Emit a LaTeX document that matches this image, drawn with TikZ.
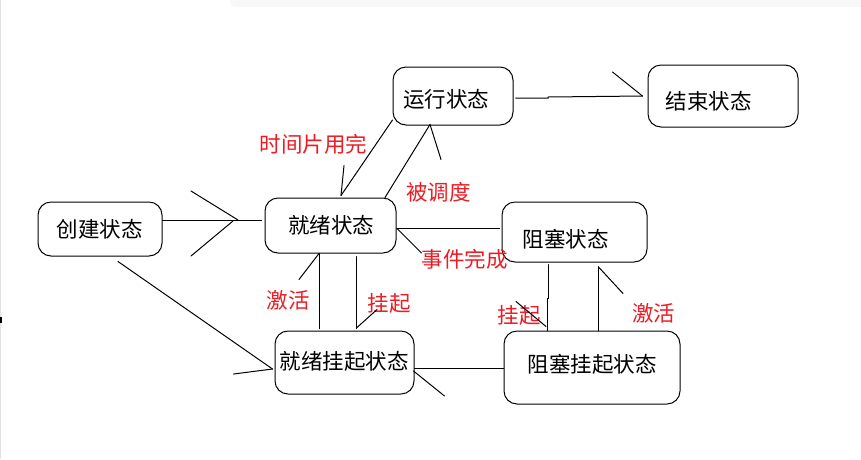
\documentclass[tikz,border=0pt]{standalone}
\usepackage{fontspec}
\newfontfamily\cjk{Noto Sans CJK SC}
\definecolor{lblred}{RGB}{237,28,36}
\definecolor{faint}{RGB}{248,248,248}
\definecolor{edgegrey}{RGB}{225,225,225}
\begin{document}
\begin{tikzpicture}[x=1pt,y=-1pt,
  box/.style={draw, rounded corners=13pt, line width=1pt, inner sep=0pt},
  txt/.style={font=\cjk\fontsize{21.5}{24}\selectfont, inner sep=0pt, text=black},
  lbl/.style={font=\cjk\fontsize{21.5}{24}\selectfont, inner sep=0pt, text=lblred},
  wire/.style={line width=1pt, line cap=round}]
\useasboundingbox (0,0) rectangle (861,459);
\fill[white] (0,0) rectangle (861,459);
% screenshot artefacts
\fill[faint, rounded corners=5pt] (230,-10) rectangle (875,7);
\fill[edgegrey] (0,0) rectangle (1.2,459);
\fill[black] (0,317) rectangle (1.6,323);

% state boxes
\node[box, minimum width=124pt, minimum height=54pt] (create) at (100,229) {};
\node[box, minimum width=131pt, minimum height=55pt] (ready) at (330.5,225.5) {};
\node[box, minimum width=120pt, minimum height=58pt] (run) at (453,96) {};
\node[box, minimum width=150pt, minimum height=62pt] (end) at (723,96) {};
\node[box, minimum width=145pt, minimum height=60pt] (blocked) at (574.5,232) {};
\node[box, minimum width=139pt, minimum height=63pt] (readysusp) at (344.5,362.5) {};
\node[box, minimum width=176pt, minimum height=73pt] (blockedsusp) at (592,367.5) {};

% state names
\node[txt] (createtxt) at (99.5,229) {创建状态};
\node[txt] (readytxt) at (331,225.5) {就绪状态};
\node[txt] (runtxt) at (446,99.5) {运行状态};
\node[txt] (endtxt) at (708.5,101.5) {结束状态};
\node[txt] (blockedtxt) at (565.5,239) {阻塞状态};
\node[txt] (readysusptxt) at (344,361) {就绪挂起状态};
\node[txt] (blockedsusptxt) at (592,364) {阻塞挂起状态};

% transition labels
\node[lbl] (l1) at (313.5,144) {时间片用完};
\node[lbl] (l2) at (438.5,192.5) {被调度};
\node[lbl] (l3) at (464.5,259) {事件完成};
\node[lbl] (l4) at (288,300) {激活};
\node[lbl] (l5) at (389,303.5) {挂起};
\node[lbl] (l6) at (519,315) {挂起};
\node[lbl] (l7) at (653.5,313.5) {激活};

% 1: create -> ready
\coordinate (c1a) at ([yshift=9pt]create.east);
\coordinate (c1b) at ([xshift=-3pt,yshift=5.5pt]ready.west);
\coordinate (t1) at (238,220);
\draw[wire] (c1a) -- (c1b);
\draw[wire] (t1) -- ++(-47,-29);
\draw[wire] ([xshift=-5pt,yshift=-1pt]t1) -- ++(-42,35);

% 2: create -> ready suspended
\coordinate (c2a) at ([xshift=18pt,yshift=-5pt]create.south);
\coordinate (c2b) at ([xshift=-2pt,yshift=-6.5pt]readysusp.west);
\draw[wire] (c2a) -- (c2b);
\draw[wire] (c2b) -- ++(-39,5);

% 3: ready -> run (scheduled)
\coordinate (c3a) at ([xshift=54.5pt]ready.north);
\coordinate (c3b) at ([xshift=-23pt,yshift=1pt]run.south);
\draw[wire] (c3a) -- (c3b);
\draw[wire] (c3b) -- ++(11,35);

% 4: run -> ready (time slice used up)
\coordinate (c4a) at ([yshift=-24pt]run.west);
\coordinate (c4b) at ([xshift=10.5pt,yshift=2pt]ready.north);
\draw[wire] (c4a) -- (c4b);
\draw[wire] (c4b) -- ++(3,-30);

% 5: run -> end
\coordinate (c5a) at ([xshift=2pt,yshift=-2pt]run.east);
\coordinate (c5b) at ([xshift=-5pt]end.west);
\draw[wire] (c5a) -- (548,98) -- (548,97) -- (c5b);
\draw[wire] (c5b) -- ++(-30,-24);

% 6: blocked -> ready (event done)
\coordinate (c6a) at ([yshift=-2.5pt]ready.east);
\coordinate (c6b) at ([xshift=-2pt,yshift=4pt]blocked.west);
\draw[wire] (c6a) -- (c6b);
\draw[wire] ([xshift=1pt,yshift=-1pt]c6a) -- ++(24,24);

% 7a: ready suspended -> ready (activate)
\coordinate (c7a) at ([xshift=-25.5pt,yshift=2pt]readysusp.north);
\coordinate (c7b) at ([xshift=-11.5pt]ready.south);
\draw[wire] (c7a) -- (c7b);
\draw[wire] (c7b) -- ++(-20,26);

% 7b: ready -> ready suspended (suspend)
\coordinate (c8a) at ([xshift=25.5pt,yshift=-3pt]ready.south);
\coordinate (c8b) at ([xshift=11.5pt,yshift=2pt]readysusp.north);
\draw[wire] (c8a) -- (c8b);
\draw[wire] ([xshift=1pt,yshift=1pt]c8b) -- ++(20,-18);

% 8: blocked suspended -> ready suspended
\coordinate (c9a) at ([xshift=-0pt,yshift=-0.5pt]blockedsusp.west);
\coordinate (c9b) at ([yshift=-5.5pt]readysusp.east);
\draw[wire] (c9a) -- (c9b);
\draw[wire] ([xshift=-1pt,yshift=-3pt]c9b) -- ++(31,25);

% 9a: blocked -> blocked suspended (suspend)
\coordinate (c10a) at ([xshift=-26.5pt,yshift=-2pt]blocked.south);
\coordinate (c10b) at ([xshift=-45pt]blockedsusp.north);
\draw[wire] (c10a) -- (548,298) -- (547,298) -- (c10b);
\draw[wire] ([xshift=-1pt,yshift=4pt]c10b) -- ++(-30,-25);

% 9b: blocked suspended -> blocked (activate)
\coordinate (c11a) at ([xshift=6pt]blockedsusp.north);
\coordinate (c11b) at ([xshift=23.5pt,yshift=-4pt]blocked.south);
\draw[wire] (c11a) -- (c11b);
\draw[wire] ([xshift=1pt,yshift=-1pt]c11b) -- ++(24,26);
\end{tikzpicture}
\end{document}
